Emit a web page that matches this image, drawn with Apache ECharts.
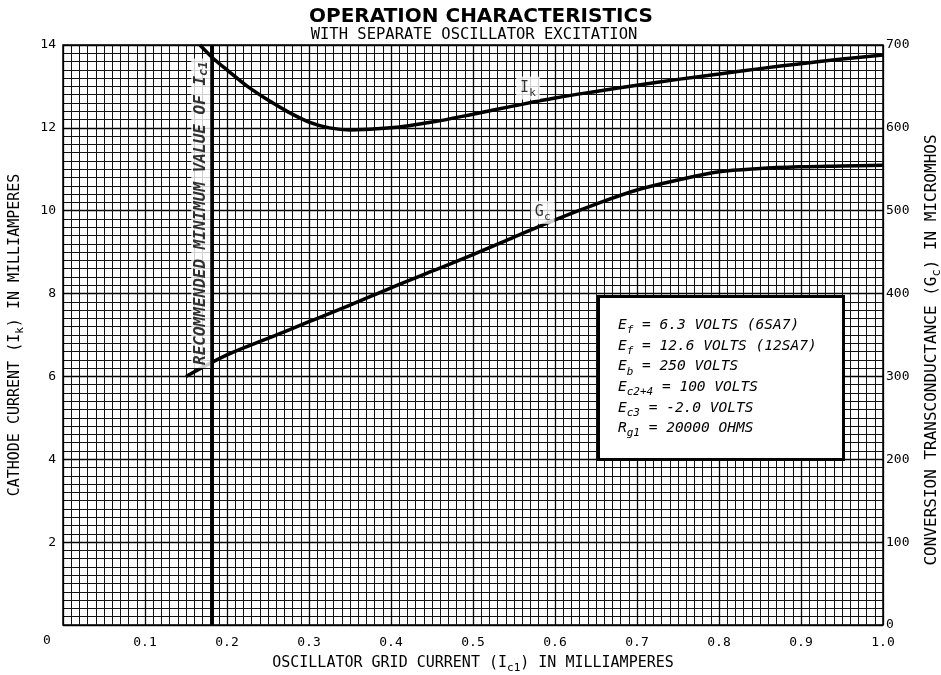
<!DOCTYPE html>
<html><head><meta charset="utf-8">
<script src="https://cdn.jsdelivr.net/npm/echarts@6/dist/echarts.min.js"></script>
<style>html,body{margin:0;padding:0;background:#fff}#c{width:941px;height:675px}</style>
</head><body><div id="c"></div>
<script>
// ---- data ----
const xTickLabels = ['0','0.1','0.2','0.3','0.4','0.5','0.6','0.7','0.8','0.9','1.0'];
const leftTickLabels = ['0','2','4','6','8','10','12','14'];
const rightTickLabels = ['0','100','200','300','400','500','600','700'];
const ikX = [0.167,0.182,0.2,0.225,0.25,0.275,0.3,0.325,0.35,0.4,0.45,0.5,0.55,0.6,0.65,0.7,0.75,0.8,0.85,0.9,0.95,1.0];
const ikY = [14.0,13.7,13.4,13.0,12.67,12.38,12.14,12.0,11.95,12.0,12.14,12.33,12.53,12.72,12.88,13.03,13.17,13.3,13.43,13.55,13.66,13.76];
const gcX = [0.15,0.2,0.25,0.3,0.35,0.4,0.45,0.5,0.55,0.6,0.65,0.7,0.75,0.8,0.85,0.9,0.95,1.0];
const gcY = [300,326,346,366,386,407,427,447,468,489,508,525,537,547,551,553,554,555];
const minIc1 = 0.182;
const ikLabelPos = [0.567, 12.96];
const gcLabelPos = [0.585, 498];
const recLabelPos = [0.168, 9.94];
const conditions = [
  ['E','f',' = 6.3 VOLTS (6SA7)'],
  ['E','f',' = 12.6 VOLTS (12SA7)'],
  ['E','b',' = 250 VOLTS'],
  ['E','c2+4',' = 100 VOLTS'],
  ['E','c3',' = -2.0 VOLTS'],
  ['R','g1',' = 20000 OHMS']
];

const MONO = '"DejaVu Sans Mono", "Liberation Mono", monospace';
const chart = echarts.init(document.getElementById('c'), null, {renderer:'canvas'});
const zip = (a,b) => a.map((v,i)=>[v,b[i]]);

const subRich = (size) => ({
  m:{fontFamily:MONO,fontSize:size,color:'#000',lineHeight:size+6,verticalAlign:'middle'},
  s:{fontFamily:MONO,fontSize:size-4,color:'#000',lineHeight:size+6,verticalAlign:'bottom'}
});

const condRich = {
  m:{fontFamily:MONO,fontSize:14.5,fontStyle:'italic',color:'#000',lineHeight:21},
  s:{fontFamily:MONO,fontSize:11,fontStyle:'italic',color:'#000',lineHeight:21,verticalAlign:'bottom'}
};

const option = {
  backgroundColor:'#fff',
  animation:false,
  title:[
    {text:'OPERATION CHARACTERISTICS',left:476,top:2,textAlign:'center',
     textStyle:{fontFamily:'"DejaVu Sans", sans-serif',fontWeight:'bold',fontSize:20,color:'#000'}},
    {text:'WITH SEPARATE OSCILLATOR EXCITATION',left:469,top:22,textAlign:'center',
     textStyle:{fontFamily:MONO,fontWeight:'normal',fontSize:15.5,color:'#000'}}
  ],
  grid:{left:63,right:58,top:45,bottom:50,containLabel:false,outerBoundsMode:'none',
    show:true,borderColor:'#000',borderWidth:1.5,backgroundColor:'#fff'},
  xAxis:{type:'value',min:0,max:1,interval:0.1,
    axisLine:{show:false},axisTick:{show:false},
    axisLabel:{margin:11,fontFamily:MONO,fontSize:13,color:'#000',
      formatter:(v)=>{const i=Math.round(v*10);return i===0?'':xTickLabels[i];}},
    splitLine:{show:true,lineStyle:{color:'#000',width:1.3}},
    minorTick:{show:false,splitNumber:10},
    minorSplitLine:{show:true,lineStyle:{color:'#111',width:1}},
    name:'OSCILLATOR GRID CURRENT (I{s|c1}) IN MILLIAMPERES',nameLocation:'middle',nameGap:28,
    nameTextStyle:{fontFamily:MONO,fontSize:15,color:'#000',rich:subRich(15)}
  },
  yAxis:[
    {type:'value',min:0,max:14,interval:2,position:'left',
     axisLine:{show:false},axisTick:{show:false},
     axisLabel:{margin:7,fontFamily:MONO,fontSize:13,color:'#000',
       formatter:(v)=>{const i=Math.round(v/2);return i===0?'':leftTickLabels[i];}},
     splitLine:{show:true,lineStyle:{color:'#000',width:1.3}},
     minorTick:{show:false,splitNumber:10},
     minorSplitLine:{show:true,lineStyle:{color:'#111',width:1}},
     name:'CATHODE CURRENT (I{s|k}) IN MILLIAMPERES',nameLocation:'middle',nameGap:37,nameRotate:90,
     nameTextStyle:{fontFamily:MONO,fontSize:15,color:'#000',rich:subRich(15)}
    },
    {type:'value',min:0,max:700,interval:100,position:'right',
     axisLine:{show:false},axisTick:{show:false},splitLine:{show:false},
     axisLabel:{margin:3,fontFamily:MONO,fontSize:13,color:'#000',
       formatter:(v)=>rightTickLabels[Math.round(v/100)]},
     name:'CONVERSION TRANSCONDUCTANCE (G{s|c}) IN MICROMHOS',nameLocation:'middle',nameGap:38,nameRotate:90,
     nameTextStyle:{fontFamily:MONO,fontSize:16,color:'#000',padding:[0,30,0,0],rich:subRich(16)}
    }
  ],
  graphic:[
    {type:'text',left:43,top:634,style:{text:'0',font:'13px "DejaVu Sans Mono"',fill:'#000'},z:100},
    {type:'rect',left:597,top:295,z:100,shape:{x:0,y:0,width:245,height:163},
      style:{fill:'#fff',stroke:'#000',lineWidth:3}},
    ...conditions.map((c,i)=>({type:'text',x:618,y:315+i*20.6,z:101,
        style:{text:`{m|${c[0]}}{s|${c[1]}}{m|${c[2]}}`,rich:condRich,fill:'#000'}}))
  ],
  series:[
    {type:'line',name:'min',data:[[minIc1,0],[minIc1,14]],symbol:'none',
     lineStyle:{color:'#000',width:3.5},z:5,silent:true},
    {type:'line',name:'Ik',yAxisIndex:0,data:zip(ikX,ikY),smooth:0.35,symbol:'none',
     lineStyle:{color:'#000',width:3.5},z:6},
    {type:'line',name:'Gc',yAxisIndex:1,data:zip(gcX,gcY),smooth:0.35,symbol:'none',
     lineStyle:{color:'#000',width:3.5},z:6},
    {type:'scatter',yAxisIndex:0,symbolSize:0,z:8,silent:true,
     data:[{value:ikLabelPos,label:{show:true,formatter:'I{s|k}',backgroundColor:'#fff',padding:[1,4,1,4],
       fontFamily:MONO,fontSize:15,color:'#000',rich:subRich(15)}},
       {value:recLabelPos,label:{show:true,rotate:90,formatter:'RECOMMENDED MINIMUM VALUE OF I{s|c1}',
        backgroundColor:'#fff',padding:[0,3,0,3],fontFamily:MONO,fontSize:16,fontWeight:'bold',fontStyle:'italic',color:'#000',
        rich:{s:{fontFamily:MONO,fontSize:12,fontWeight:'bold',fontStyle:'italic',color:'#000',verticalAlign:'bottom',lineHeight:19}}}}]},
    {type:'scatter',yAxisIndex:1,symbolSize:0,z:8,silent:true,
     data:[{value:gcLabelPos,label:{show:true,formatter:'G{s|c}',backgroundColor:'#fff',padding:[1,4,1,4],
       fontFamily:MONO,fontSize:15,color:'#000',rich:subRich(15)}}]}
  ]
};
chart.setOption(option);
</script>
</body></html>
